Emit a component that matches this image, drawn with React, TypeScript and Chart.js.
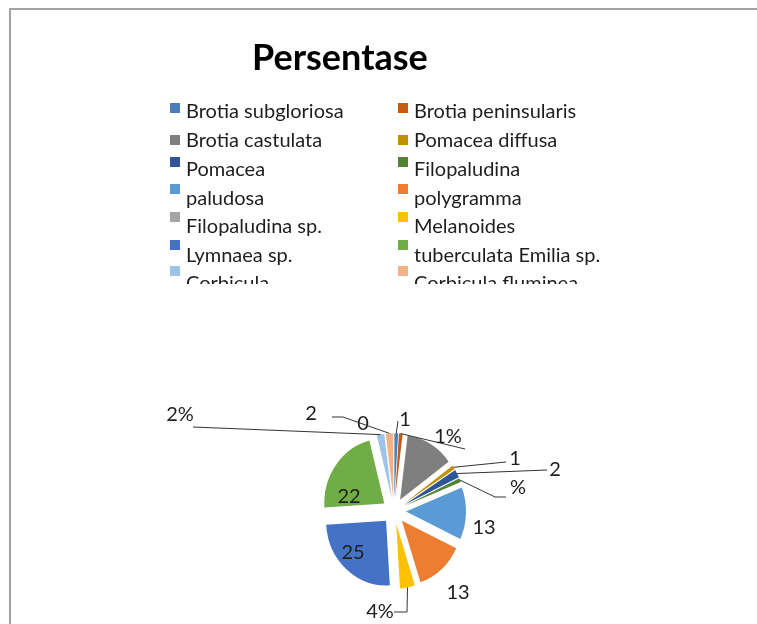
import React, { useEffect, useRef } from "react";
import { Chart, registerables } from "chart.js";

Chart.register(...registerables);

// ---- data ----
const categories = [
  "Brotia subgloriosa",
  "Brotia peninsularis",
  "Brotia castulata",
  "Pomacea diffusa",
  "Pomacea",
  "Filopaludina",
  "paludosa",
  "polygramma",
  "Filopaludina sp.",
  "Melanoides",
  "Lymnaea sp.",
  "tuberculata Emilia sp.",
  "Corbicula",
  "Corbicula fluminea",
];
const values = [1, 1, 13, 1, 2, 1, 13, 13, 0, 4, 25, 22, 2, 2];
const sliceColors = [
  "#4A7EBB",
  "#C55A11",
  "#7F7F7F",
  "#BF9000",
  "#2F5597",
  "#548235",
  "#5B9BD5",
  "#ED7D31",
  "#A5A5A5",
  "#FFC000",
  "#4472C4",
  "#70AD47",
  "#9DC3E6",
  "#F4B183",
];
const labelTexts = ["1", "1%", "", "1", "2", "%", "13", "13", "0", "4%", "25", "22", "2%", "2"];
const titleText = "Persentase";

// ---- layout (positions only) ----
const W = 757;
const H = 624;
const RADIUS = 60;
const EXPLODE = 12;
const SCALE_Y = 1.08;
const labelPos: [number, number][] = [
  [405, 420],
  [448, 437],
  [0, 0],
  [515, 459],
  [555, 470],
  [518, 488],
  [484, 528],
  [458, 593],
  [363, 424],
  [380, 612],
  [353, 553],
  [349, 497],
  [180, 415],
  [311, 414],
];
const leaderPts: [number, number][][] = [
  [[398, 421]],
  [[465, 449]],
  [],
  [[506, 462]],
  [[547, 470]],
  [[495, 497], [506, 497]],
  [],
  [],
  [],
  [[407, 612], [394, 612]],
  [],
  [],
  [[193, 427]],
  [[343, 417], [332, 417]],
];
const legendBaselines = [118, 147, 176, 205, 233, 262, 290];
const legendMarkerTops = [103, 135, 157, 184, 212, 240, 266];
const legendMarkerX = [170, 398];
const legendTextX = [186, 414];

const overlayPlugin = {
  id: "overlay",
  beforeDatasetsDraw(chart: any) {
    const ctx = chart.ctx;
    const meta = chart.getDatasetMeta(0);
    meta.data.forEach((arc: any) => {
      const mid = (arc.startAngle + arc.endAngle) / 2;
      ctx.save();
      ctx.translate(arc.x, arc.y);
      ctx.scale(1, SCALE_Y);
      ctx.translate(-arc.x, -arc.y);
      ctx.translate(Math.cos(mid) * EXPLODE, Math.sin(mid) * EXPLODE);
      arc.draw(ctx);
      ctx.restore();
    });
    return false;
  },
  afterDraw(chart: any) {
    const ctx = chart.ctx;
    ctx.save();
    // frame
    ctx.fillStyle = "#A3A3A3";
    ctx.fillRect(9, 8, W - 9, 2);
    ctx.fillRect(9, 8, 2, H - 8);

    // title
    ctx.fillStyle = "#000000";
    ctx.font = "bold 36px Lato";
    ctx.textAlign = "left";
    ctx.textBaseline = "alphabetic";
    ctx.fillText(titleText, 252, 70);

    // legend (clipped)
    ctx.save();
    ctx.beginPath();
    ctx.rect(160, 91, 470, 193);
    ctx.clip();
    ctx.font = "20px Lato";
    categories.forEach((name, i) => {
      const col = i % 2;
      const row = Math.floor(i / 2);
      ctx.fillStyle = sliceColors[i];
      ctx.fillRect(legendMarkerX[col], legendMarkerTops[row], 10, 10);
      ctx.fillStyle = "#1E1E1E";
      ctx.fillText(name, legendTextX[col], legendBaselines[row]);
    });
    ctx.restore();

    // data labels with leader lines
    const meta = chart.getDatasetMeta(0);
    ctx.font = "20px Lato";
    ctx.textAlign = "center";
    ctx.textBaseline = "middle";
    meta.data.forEach((arc: any, i: number) => {
      const txt = labelTexts[i];
      if (!txt) return;
      const mid = (arc.startAngle + arc.endAngle) / 2;
      const r = RADIUS + EXPLODE;
      const ax = arc.x + Math.cos(mid) * r;
      const ay = arc.y + Math.sin(mid) * r * SCALE_Y;
      const pts = leaderPts[i];
      if (pts.length) {
        ctx.strokeStyle = "#333333";
        ctx.lineWidth = 1;
        ctx.beginPath();
        ctx.moveTo(ax, ay);
        pts.forEach((p) => ctx.lineTo(p[0], p[1]));
        ctx.stroke();
      }
      ctx.fillStyle = "#1E1E1E";
      ctx.fillText(txt, labelPos[i][0], labelPos[i][1]);
    });
    ctx.restore();
  },
};

export default function App() {
  const ref = useRef<HTMLCanvasElement | null>(null);
  useEffect(() => {
    if (!ref.current) return;
    const chart = new Chart(ref.current, {
      type: "pie",
      data: {
        labels: categories,
        datasets: [
          {
            data: values,
            backgroundColor: sliceColors,
            borderWidth: 0,
            radius: RADIUS,
          } as any,
        ],
      },
      options: {
        animation: false,
        responsive: false,
        events: [],
        radius: RADIUS,
        layout: { padding: { left: 300, right: 269, top: 420, bottom: 22 } },
        plugins: { legend: { display: false }, tooltip: { enabled: false }, title: { display: false } },
      } as any,
      plugins: [overlayPlugin],
    });
    return () => chart.destroy();
  }, []);
  return (
    <div style={{ position: "absolute", left: 0, top: 0, width: W, height: H, overflow: "hidden", background: "#fff" }}>
      <canvas ref={ref} width={W} height={H} style={{ display: "block", width: W, height: H }} />
    </div>
  );
}
